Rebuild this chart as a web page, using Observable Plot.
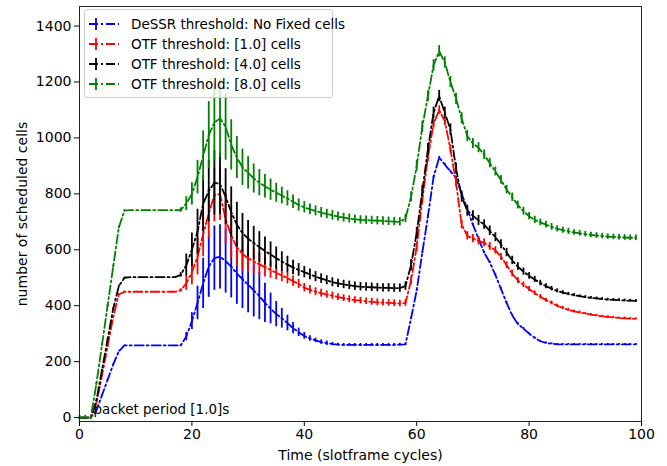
<!DOCTYPE html>
<html><head><meta charset="utf-8">
<script src="https://cdn.jsdelivr.net/npm/d3@7"></script>
<script src="https://cdn.jsdelivr.net/npm/@observablehq/plot@0.6"></script>
<style>
body{margin:0;background:#fff;font-family:"DejaVu Sans",sans-serif;}
#wrap{position:relative;width:667px;height:466px;overflow:hidden;}
#legend{position:absolute;left:84px;top:9px;width:249px;height:89px;background:rgba(255,255,255,0.8);border:1px solid #cccccc;border-radius:3px;box-sizing:border-box;font-size:13.5px;color:#000;}
.row{position:absolute;left:3px;height:20px;display:flex;align-items:center;white-space:nowrap;}
.row svg{margin-right:11px;}
</style></head>
<body><div id="wrap"><div id="chart"></div><div id="legend"></div></div>
<script>
const cycles = d3.range(0, 100);
const seriesNames = ["DeSSR threshold: No Fixed cells","OTF threshold: [1.0] cells","OTF threshold: [4.0] cells","OTF threshold: [8.0] cells"];
const dessr = [0,0,0,25,80,135,190,237,258,258,
258,258,258,258,258,258,258,258,258,290,
345,410,480,540,570,575,560,540,515,495,
475,455,435,410,390,370,355,338,320,305,
292,283,276,270,266,263,261,260,260,260,
260,260,260,260,260,260,260,261,262,355,
455,590,720,860,930,905,880,858,800,746,
690,640,590,555,510,460,410,365,335,318,
300,285,273,267,264,262,262,262,262,262,
262,262,262,262,262,262,262,262,262,262];
const dessrErr = [0,0,0,2,2,2,2,2,1,0,
0,0,0,0,0,0,0,0,3,15,
30,60,90,110,115,115,115,112,110,105,
100,95,85,70,55,45,35,28,20,15,
12,10,8,8,8,6,5,5,5,5,
5,5,5,5,5,5,5,5,4,4,
4,4,4,4,4,4,4,4,4,4,
4,4,4,4,4,4,4,4,4,4,
3,3,3,3,3,3,3,3,3,3,
3,3,3,3,3,3,3,3,3,3];
const otf1 = [0,0,0,50,150,255,360,440,450,450,
450,450,450,450,450,450,450,450,455,480,
520,575,655,730,795,800,710,650,610,585,
570,558,548,538,528,518,508,498,488,478,
465,457,450,445,440,436,431,427,423,420,
418,416,414,412,411,410,409,408,410,490,
610,780,930,1050,1100,1060,960,840,690,650,
640,632,625,612,598,575,545,515,490,475,
460,445,432,420,410,400,392,385,380,376,
372,368,365,362,360,358,356,355,354,353];
const otf1Err = [0,0,0,3,3,3,3,3,2,0,
0,0,0,0,0,0,0,0,6,25,
45,65,80,90,95,95,90,80,70,60,
50,45,40,35,30,25,22,20,18,16,
15,15,14,14,13,13,12,12,12,12,
12,12,12,12,12,12,12,12,12,15,
15,15,15,15,15,15,15,15,15,15,
15,15,14,14,13,13,12,12,11,10,
9,8,8,7,7,6,6,5,5,5,
4,4,4,4,4,4,4,4,4,4];
const otf4 = [0,0,0,60,170,280,390,470,500,502,
502,502,502,502,502,502,502,502,510,545,
600,665,765,810,840,835,790,735,690,660,
640,624,610,596,583,570,558,547,537,528,
520,512,504,497,491,484,480,476,473,470,
468,467,466,465,464,464,463,463,470,545,
660,810,960,1090,1150,1090,1030,890,790,740,
722,705,690,668,645,620,590,562,540,522,
507,494,481,470,461,453,447,442,438,434,
431,428,426,424,422,421,420,419,418,417];
const otf4Err = [0,0,0,3,3,3,3,3,2,0,
0,0,0,0,0,0,0,0,8,40,
60,80,100,110,115,110,100,90,80,70,
65,60,55,50,45,40,35,30,26,23,
20,19,18,17,16,16,15,15,15,15,
15,15,15,15,15,15,15,15,15,20,
20,20,20,20,20,20,20,20,20,20,
18,18,17,17,16,16,15,15,14,13,
12,11,10,9,8,7,7,6,6,5,
5,5,5,5,5,5,5,5,5,5];
const otf8 = [0,0,0,120,260,400,540,680,740,742,
742,742,742,742,742,742,742,742,742,765,
800,860,935,1010,1055,1070,1040,975,930,895,
875,855,840,827,815,804,794,784,772,760,
752,745,739,733,728,723,719,715,712,709,
707,706,705,704,703,702,701,700,712,790,
900,1040,1150,1260,1310,1270,1200,1140,1070,1007,
980,965,940,910,880,850,815,788,760,738,
720,707,698,690,682,675,670,666,662,659,
656,653,651,649,647,646,645,644,643,643];
const otf8Err = [8,8,8,5,5,5,5,5,3,0,
0,0,0,0,0,0,0,0,8,25,
40,60,90,120,140,140,120,90,75,65,
58,52,47,42,38,34,30,27,24,22,
20,19,18,18,17,17,16,16,16,15,
15,15,15,15,15,15,15,15,15,18,
20,20,20,20,20,20,20,20,20,20,
18,18,17,17,16,16,15,15,14,14,
13,13,12,12,12,11,11,11,10,10,
10,10,10,10,10,10,10,10,10,10];
const yTicks = [0,200,400,600,800,1000,1200,1400];
const xTicks = [0,20,40,60,80,100];
const annotation = "packet period [1.0]s";

const colors = ["#0000ff","#ff0000","#000000","#008000"];
const dash = "9,3,2,3";
const values = [dessr, otf1, otf4, otf8];
const errs = [dessrErr, otf1Err, otf4Err, otf8Err];
const tables = values.map((vals, i) => cycles.map((t, j) => ({t, v: vals[j], e: errs[i][j], name: seriesNames[i]})));

const marks = [];
tables.forEach((tab, i) => {
  marks.push(Plot.ruleX(tab.filter(d => d.e > 0), {x: "t", y1: d => d.v - d.e, y2: d => d.v + d.e, stroke: colors[i], strokeWidth: 1.8}));
  marks.push(Plot.line(tab, {x: "t", y: "v", stroke: colors[i], strokeWidth: 1.8, strokeDasharray: dash}));
});

const chart = Plot.plot({
  width: 667, height: 466,
  marginLeft: 79, marginRight: 26, marginTop: 6, marginBottom: 45,
  style: {fontFamily: "DejaVu Sans", fontSize: "14px", color: "#000", background: "#fff"},
  x: {domain: [0, 100]},
  y: {domain: [-14, 1470]},
  marks: [
    ...marks,
    Plot.text([annotation], {x: 2.5, y: 0, text: d => d, textAnchor: "start", dy: -8, fontSize: 13.5, fill: "#000"}),
    Plot.frame({stroke: "#222", strokeWidth: 1}),
    Plot.axisX({ticks: xTicks, tickFormat: d => String(d), tickSize: 5, tickPadding: 3, fontSize: 14, label: "Time (slotframe cycles)", labelAnchor: "center", labelArrow: "none", labelOffset: 38}),
    Plot.axisY({ticks: yTicks, tickFormat: d => String(d), tickSize: 5, tickPadding: 3, fontSize: 14, label: "number of scheduled cells", labelAnchor: "center", labelArrow: "none", labelOffset: 62})
  ]
});
document.getElementById("chart").appendChild(chart);

const legend = document.getElementById("legend");
const rowTops = [4, 24, 44, 64];
seriesNames.forEach((name, i) => {
  const row = document.createElement("div");
  row.className = "row";
  row.style.top = rowTops[i] + "px";
  row.innerHTML = `<svg width="32" height="20"><line x1="1" x2="31" y1="10" y2="10" stroke="${colors[i]}" stroke-width="1.8" stroke-dasharray="${dash}"/><line x1="8" x2="8" y1="4" y2="16" stroke="${colors[i]}" stroke-width="1.8"/></svg>`;
  const span = document.createElement("span");
  span.textContent = name;
  row.appendChild(span);
  legend.appendChild(row);
});
</script>
</body></html>
